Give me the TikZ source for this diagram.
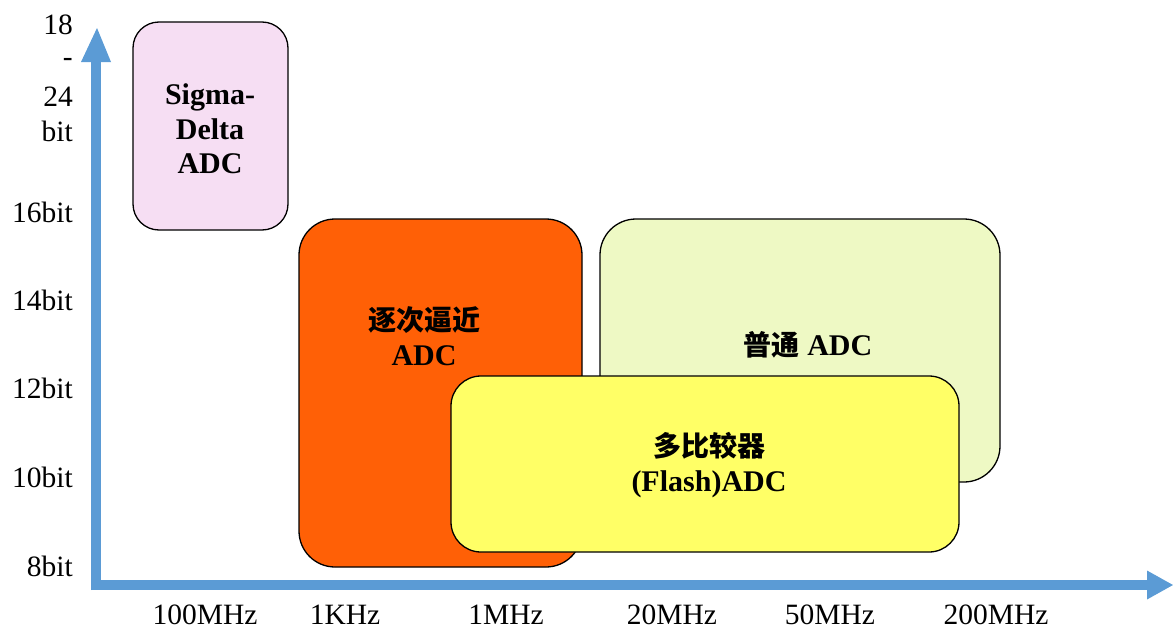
\documentclass[tikz,border=0pt]{standalone}
\usepackage{fontspec}
\setmainfont{Liberation Serif}
\newfontfamily\cjk{Noto Sans CJK SC}
\newcommand{\cj}[1]{{\fontsize{28}{34}\selectfont\cjk\bfseries #1}}
\begin{document}
\begin{tikzpicture}[x=1pt,y=-1pt,
  box/.style={draw=black,line width=1.3pt,rounded corners=#1},
  lab/.style={font=\fontsize{29.5}{32}\selectfont,inner sep=0pt},
  ttl/.style={font=\fontsize{30}{34.5}\selectfont\bfseries,inner sep=0pt,align=center},
  axis/.style={draw=axisblue,line width=9.5pt},
  head/.style={fill=axisblue}]
\definecolor{axisblue}{HTML}{5B9BD5}
\definecolor{pinkfill}{HTML}{F6DEF3}
\definecolor{orangefill}{HTML}{FF6006}
\definecolor{greenfill}{HTML}{EEF9C4}
\definecolor{yellowfill}{HTML}{FFFF66}
\useasboundingbox (0,0) rectangle (1173,629);
% axes
\coordinate (o) at (96,585);
\coordinate (ytop) at (96,62);
\coordinate (xend) at (1148,585);
\draw[axis] (96,590) -- (ytop);
\draw[axis] (91,585) -- (xend);
\fill[head] (81,62) -- (111,62) -- (97,28) -- cycle;
\fill[head] (1147,570.5) -- (1147,599.5) -- (1173,585) -- cycle;
% boxes
\draw[box=26pt,fill=pinkfill] (133,22) rectangle (288,230);
\node[ttl] (sd) at (210,129) {Sigma-\\Delta\\ADC};
\draw[box=36pt,fill=orangefill] (299,219) rectangle (582,567);
\node[ttl] (sar) at (424,336) {\cj{逐次逼近}\\ADC};
\draw[box=36pt,fill=greenfill] (600,219) rectangle (1000,482);
\node[ttl] (norm) at (808,345) {\cj{普通} ADC};
\draw[box=30pt,fill=yellowfill] (451,376) rectangle (959,552);
\node[ttl] (flash) at (709,465) {\cj{多比较器}\\(Flash)ADC};
% y labels
\node[lab,anchor=east] (y1) at (73,25) {18};
\node[lab,anchor=east] (y2) at (73,62) {-};
\node[lab,anchor=east] (y3) at (73,97) {24};
\node[lab,anchor=east] (y4) at (73,131) {bit};
\node[lab,anchor=east] (y16) at (73,212) {16bit};
\node[lab,anchor=east] (y14) at (73,300) {14bit};
\node[lab,anchor=east] (y12) at (73,388) {12bit};
\node[lab,anchor=east] (y10) at (73,477) {10bit};
\node[lab,anchor=east] (y8) at (73,566) {8bit};
% x labels
\node[lab] (x1) at (205,615) {100MHz};
\node[lab] (x2) at (345,615) {1KHz};
\node[lab] (x3) at (506,615) {1MHz};
\node[lab] (x4) at (672,615) {20MHz};
\node[lab] (x5) at (830,615) {50MHz};
\node[lab] (x6) at (996,615) {200MHz};
\end{tikzpicture}
\end{document}
